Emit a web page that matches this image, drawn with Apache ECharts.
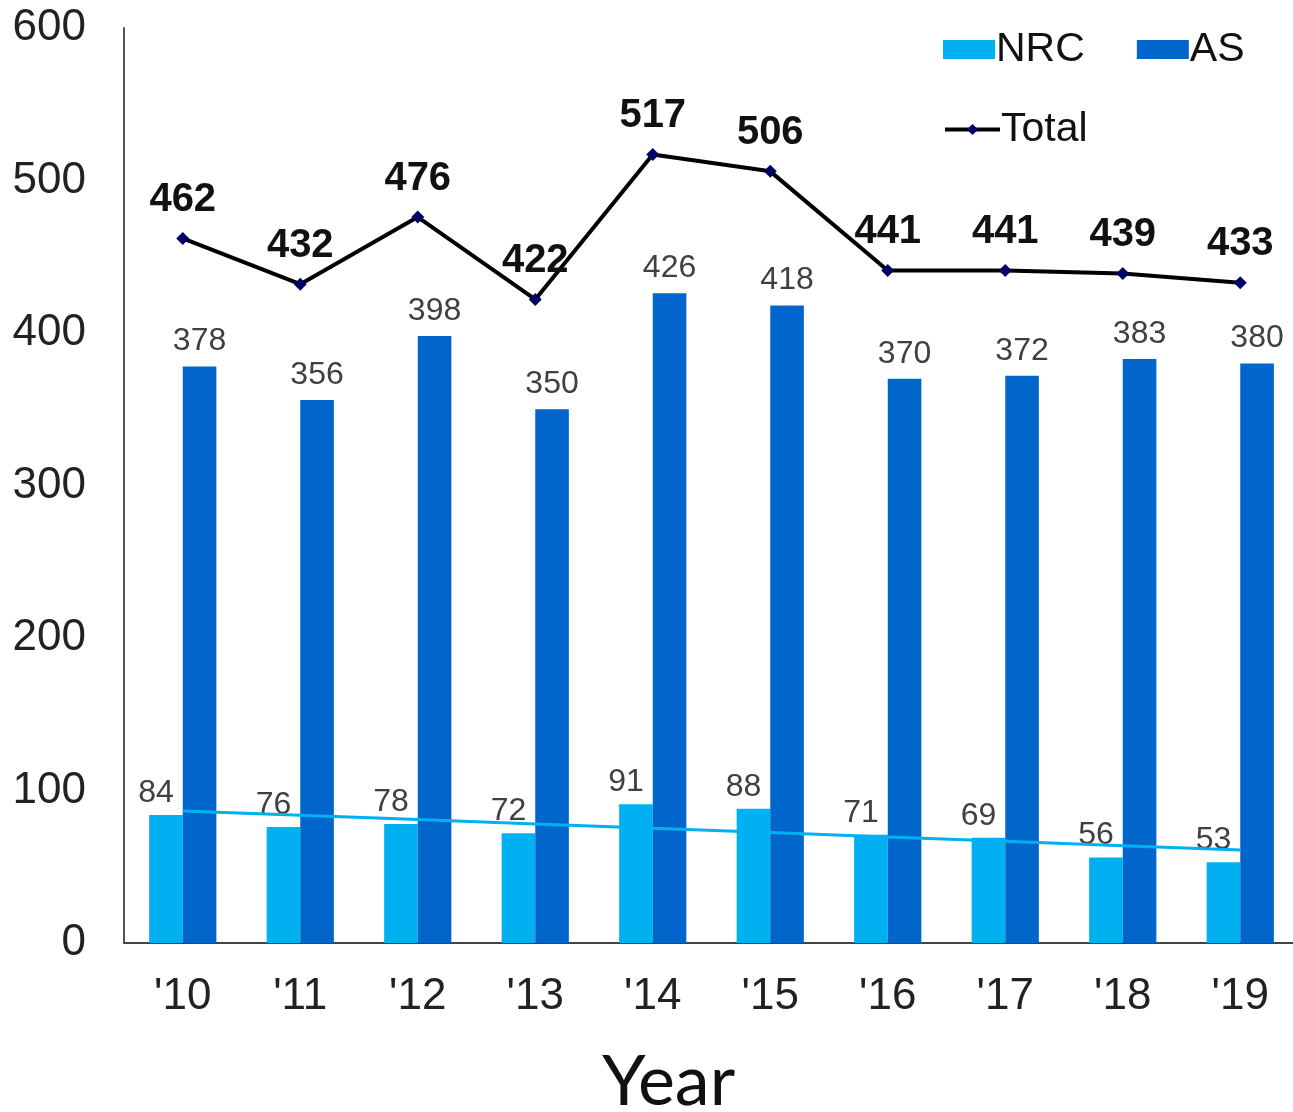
<!DOCTYPE html>
<html>
<head>
<meta charset="utf-8">
<script src="https://cdn.jsdelivr.net/npm/echarts@6/dist/echarts.min.js"></script>
<style>html,body{margin:0;padding:0;background:#fff}#c{width:1293px;height:1112px}</style>
</head>
<body>
<div id="c"></div>
<script>
const categories = ["'10","'11","'12","'13","'14","'15","'16","'17","'18","'19"];
const nrc = [84, 76, 78, 72, 91, 88, 71, 69, 56, 53];
const as = [378, 356, 398, 350, 426, 418, 370, 372, 383, 380];
const total = [462, 432, 476, 422, 517, 506, 441, 441, 439, 433];
const yTicks = [0, 100, 200, 300, 400, 500, 600];

// linear trendline of NRC (least squares)
const n = nrc.length;
const mx = (n - 1) / 2;
const my = nrc.reduce((a, b) => a + b, 0) / n;
let sxy = 0, sxx = 0;
nrc.forEach((v, i) => { sxy += (i - mx) * (v - my); sxx += (i - mx) * (i - mx); });
const slope = sxy / sxx;
const trend = nrc.map((v, i) => +(my + slope * (i - mx)).toFixed(2));

const chart = echarts.init(document.getElementById('c'));
const font = 'Liberation Sans, Arial, sans-serif';
chart.setOption({
  animation: false,
  backgroundColor: '#fff',
  textStyle: { fontFamily: font },
  grid: { left: 124, right: -6, top: 28, bottom: 169, containLabel: false, outerBoundsMode: 'none' },
  legend: [
    {
      data: ['NRC', 'AS'], left: 938, top: 24, icon: 'rect', itemWidth: 52, itemHeight: 19, itemGap: 52,
      textStyle: { fontSize: 41, color: '#111', fontFamily: font, padding: [0, 0, 0, -4] }
    },
    {
      data: ['Total'], left: 938, top: 104, itemWidth: 55, itemHeight: 14,
      lineStyle: { width: 4, color: '#000' },
      itemStyle: { color: '#000066' },
      textStyle: { fontSize: 41, color: '#111', fontFamily: font, padding: [0, 0, 0, -4] }
    }
  ],
  xAxis: {
    type: 'category', data: categories,
    name: 'Year', nameLocation: 'middle', nameGap: 104,
    nameTextStyle: { fontSize: 70, color: '#111', fontFamily: 'Lato, sans-serif', padding: [0, 86, 0, 0] },
    axisLine: { lineStyle: { color: '#444', width: 2 } },
    axisTick: { show: false },
    axisLabel: { fontSize: 44, color: '#222', margin: 32 }
  },
  yAxis: {
    type: 'value', min: 0, max: 600, interval: 100,
    axisLine: { show: true, lineStyle: { color: '#555', width: 2 } },
    axisTick: { show: false },
    splitLine: { show: false },
    axisLabel: { fontSize: 44, color: '#222', margin: 38,
      formatter: v => yTicks.includes(v) ? String(v) : '' }
  },
  series: [
    {
      name: 'NRC', type: 'bar', data: nrc, barWidth: '28.6%', barGap: '0%',
      itemStyle: { color: '#00B0F0' },
      label: { show: true, position: 'top', distance: 6, offset: [-10, 0], fontSize: 32, color: '#404040' }
    },
    {
      name: 'AS', type: 'bar', data: as, barWidth: '28.6%', barGap: '0%',
      itemStyle: { color: '#0066CC' },
      label: { show: true, position: 'top', distance: 9, fontSize: 32, color: '#404040' }
    },
    {
      name: 'NRC trend', type: 'line', data: trend, symbol: 'none',
      lineStyle: { color: '#00B0F0', width: 3 }, silent: true, z: 3
    },
    {
      name: 'Total', type: 'line', data: total, symbol: 'diamond', symbolSize: 13,
      lineStyle: { color: '#000', width: 4 },
      itemStyle: { color: '#000066' },
      label: { show: true, position: 'top', distance: 12, fontSize: 40, fontWeight: 'bold', color: '#111' },
      z: 4
    }
  ]
});
</script>
</body>
</html>
